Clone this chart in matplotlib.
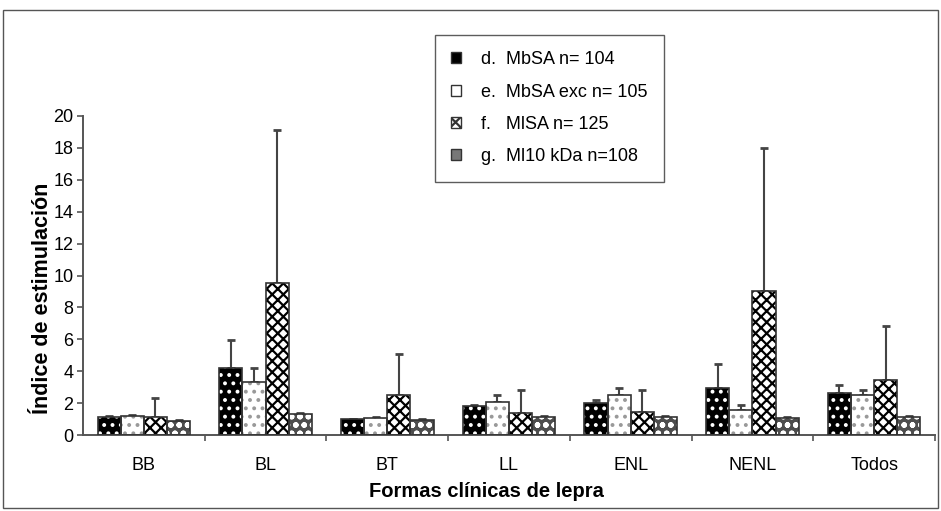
import numpy as np
import matplotlib
matplotlib.use('Agg')
import matplotlib.pyplot as plt
from matplotlib.patches import Patch, Rectangle

# (bar height = mean, error = upper whisker only)
categories = ['BB', 'BL', 'BT', 'LL', 'ENL', 'NENL', 'Todos']
labels = ['d.  MbSA n= 104', 'e.  MbSA exc n= 105', 'f.   MlSA n= 125', 'g.  Ml10 kDa n=108']

mean_d = [1.15, 4.18, 0.98, 1.82, 2.03, 2.93, 2.61]
err_d = [0.05, 1.80, 0.05, 0.05, 0.15, 1.50, 0.50]
mean_e = [1.20, 3.35, 1.05, 2.10, 2.50, 1.57, 2.50]
err_e = [0.08, 0.85, 0.05, 0.40, 0.43, 0.32, 0.32]
mean_f = [1.15, 9.50, 2.50, 1.36, 1.46, 9.05, 3.45]
err_f = [1.15, 9.60, 2.58, 1.46, 1.36, 8.95, 3.38]
mean_g = [0.88, 1.30, 0.94, 1.15, 1.15, 1.05, 1.15]
err_g = [0.05, 0.05, 0.05, 0.05, 0.05, 0.05, 0.05]

plt.rcParams['font.family'] = ['Liberation Sans', 'DejaVu Sans']
plt.rcParams['hatch.linewidth'] = 1.6

# face, hatch colour, hatch
styles = [('black', 'white', '..'),
          ('white', '#999999', '..'),
          ('white', 'black', 'xxx'),
          ('#4d4d4d', 'white', 'oo')]

fig = plt.figure(figsize=(9.41, 5.11), dpi=100)
ax = fig.add_axes([83 / 941, 1 - 435 / 511, (935 - 83) / 941, (435 - 116) / 511])

x = np.arange(len(categories))
width = 0.19
series = [(mean_d, err_d), (mean_e, err_e), (mean_f, err_f), (mean_g, err_g)]
for i, (means, errs) in enumerate(series):
    face, hcol, hatch = styles[i]
    pos = x + (i - 1.5) * width
    ax.bar(pos, means, width, color=face, edgecolor=hcol, hatch=hatch, linewidth=0, zorder=2)
    ax.bar(pos, means, width, fill=False, edgecolor='#333333', linewidth=1.2, zorder=3)
    ax.errorbar(pos, means, yerr=[np.zeros(len(errs)), errs], fmt='none',
                ecolor='#444444', elinewidth=1.5, capsize=3, capthick=2, zorder=1)

ax.set_xlim(-0.5, len(categories) - 0.5)
ax.set_ylim(0, 20)
ax.set_yticks(np.arange(0, 21, 2))
ax.set_xticks(x)
ax.set_xticklabels(categories)
ax.set_xticks(np.arange(len(categories)) + 0.5, minor=True)
ax.tick_params(axis='x', which='major', length=0, pad=16, labelsize=13)
ax.tick_params(axis='x', which='minor', length=4, width=1.2, color='#555555')
ax.tick_params(axis='y', length=4, width=1.2, color='#555555', labelsize=13, pad=3)
for side in ['top', 'right']:
    ax.spines[side].set_visible(False)
for side in ['left', 'bottom']:
    ax.spines[side].set_color('#555555')
    ax.spines[side].set_linewidth(1.4)

fig.text(43 / 941, 1 - 298 / 511, 'Índice de estimulación', rotation=90,
         ha='center', va='center', fontsize=15.5, fontweight='bold')
fig.text(486 / 941, 1 - 491 / 511, 'Formas clínicas de lepra',
         ha='center', va='center', fontsize=14.5, fontweight='bold')

handles = [Patch(facecolor=s[0], edgecolor='#333333', linewidth=1.0) for s in styles]
handles[2] = Patch(facecolor='white', edgecolor='#333333', hatch='xxx', linewidth=1.0)
handles[3] = Patch(facecolor='#777777', edgecolor='#333333', linewidth=1.0)
leg = fig.legend(handles, labels, loc='upper left', bbox_to_anchor=(435 / 941, 1 - 35 / 511),
                 fontsize=13, frameon=True, fancybox=False, handlelength=0.55, handleheight=0.55,
                 handletextpad=1.1, labelspacing=0.85, borderpad=0.9, borderaxespad=0)
leg.get_frame().set_edgecolor('#333333')
leg.get_frame().set_linewidth(1.0)

fig.patches.append(Rectangle((3 / 941, 3 / 511), 935 / 941, 498 / 511, transform=fig.transFigure,
                             fill=False, edgecolor='#555555', linewidth=1.0))

fig.savefig('out.png', dpi=100)
